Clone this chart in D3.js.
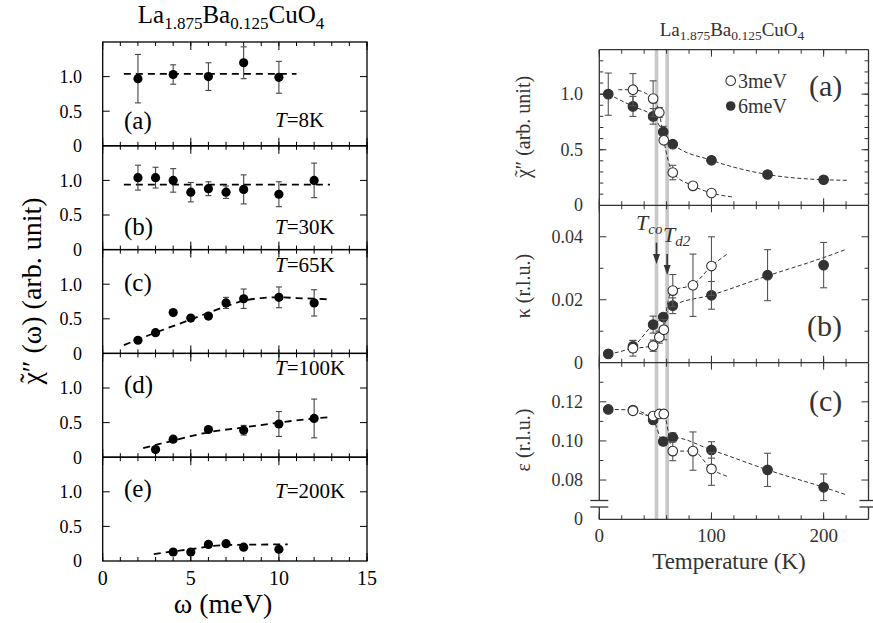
<!DOCTYPE html>
<html><head><meta charset="utf-8">
<script src="https://cdn.jsdelivr.net/npm/d3@7"></script>
<style>body{margin:0;background:#fff}svg{display:block}</style>
</head><body><svg id="fig" width="873" height="623"></svg>
<script>
// ---------- Left figure: chi''(omega) at five temperatures ----------
const panelLetters = ["(a)", "(b)", "(c)", "(d)", "(e)"];
const panelTemps = ["8K", "30K", "65K", "100K", "200K"];

const omegaA = [2, 4, 6, 8, 10];
const chiA = [0.97, 1.03, 1.00, 1.20, 0.99];
const errA = [0.35, 0.14, 0.20, 0.23, 0.23];
const fitA = [[1.2, 1.04], [11.0, 1.04]];

const omegaB = [2, 3, 4, 5, 6, 7, 8, 10, 12];
const chiB = [1.04, 1.04, 1.00, 0.83, 0.88, 0.83, 0.87, 0.80, 1.00];
const errB = [0.18, 0.15, 0.17, 0.14, 0.10, 0.09, 0.21, 0.18, 0.25];
const fitB = [[1.2, 0.94], [12.9, 0.94]];

const omegaC = [2, 3, 4, 5, 6, 7, 8, 10, 12];
const chiC = [0.19, 0.30, 0.59, 0.51, 0.54, 0.73, 0.79, 0.81, 0.73];
const errC = [0, 0, 0, 0, 0, 0.08, 0.14, 0.15, 0.19];
const fitC = [[1.2, 0.12], [3, 0.30], [5, 0.49], [7, 0.68], [8, 0.76], [9, 0.80], [10, 0.81], [11, 0.80], [12, 0.79], [12.9, 0.78]];

const omegaD = [3, 4, 6, 8, 10, 12];
const chiD = [0.11, 0.26, 0.40, 0.39, 0.48, 0.56];
const errD = [0, 0, 0, 0.07, 0.18, 0.28];
const fitD = [[2.3, 0.13], [4, 0.24], [6, 0.36], [8, 0.43], [10, 0.50], [12, 0.56], [12.9, 0.58]];

const omegaE = [4, 5, 6, 7, 8, 10];
const chiE = [0.13, 0.13, 0.24, 0.25, 0.20, 0.17];
const errE = [0, 0, 0, 0, 0, 0];
const fitE = [[2.9, 0.10], [4, 0.14], [5, 0.17], [6, 0.21], [7, 0.23], [8, 0.235], [10.5, 0.24]];

const omegaTicks = [0, 5, 10, 15];
const chiTicks = [0, 0.5, 1.0];

// ---------- Right figure: temperature dependence ----------
const temp6 = [8, 30, 48, 57, 65.5, 100, 150, 200];
const temp3 = [30, 48, 53.5, 57.5, 65.5, 83.5, 100];

const chi6 = [1.00, 0.89, 0.80, 0.66, 0.55, 0.405, 0.277, 0.23];
const chi6Err = [0.19, 0.09, 0.07, 0.05, 0, 0, 0, 0];
const chi3 = [1.04, 0.96, 0.835, 0.585, 0.295, 0.175, 0.11];
const chi3Err = [0.145, 0.16, 0.045, 0, 0.065, 0, 0];
const chi6Guide = [[8, 1.0], [30, 0.89], [48, 0.80], [57, 0.66], [65.5, 0.55], [100, 0.405], [150, 0.277], [200, 0.23], [221, 0.225]];
const chi3Guide = [[17, 1.04], [30, 1.04], [48, 0.96], [53.5, 0.835], [57.5, 0.585], [65.5, 0.295], [83.5, 0.175], [100, 0.11], [119, 0.075]];

const kap6 = [0.0028, 0.0052, 0.0121, 0.0145, 0.0181, 0.0214, 0.0278, 0.0310];
const kap6Err = [0, 0.0018, 0.0027, 0, 0.0025, 0.0044, 0.0081, 0.0072];
const kap3 = [0.0046, 0.0054, 0.0081, 0.0105, 0.0229, 0.0246, 0.0307];
const kap3Err = [0.0025, 0.0018, 0.0019, 0.0032, 0.0051, 0.0099, 0.0093];
const kap6Guide = [[8, 0.0028], [30, 0.0052], [48, 0.0121], [57, 0.0145], [65.5, 0.0181], [100, 0.0215], [150, 0.0276], [200, 0.0334], [220, 0.0360]];
const kap3Guide = [[30, 0.0046], [48, 0.0054], [53.5, 0.0081], [57.5, 0.0105], [61, 0.019], [65.5, 0.0229], [83.5, 0.0248], [100, 0.0307], [114, 0.0345]];

const eps6 = [0.1161, 0.1158, 0.1107, 0.0997, 0.1018, 0.0954, 0.0852, 0.0763];
const eps6Err = [0, 0, 0, 0.002, 0.0023, 0.0042, 0.0085, 0.0068];
const eps3 = [0.1154, 0.1127, 0.1138, 0.1138, 0.0948, 0.0948, 0.0857];
const eps3Err = [0, 0, 0, 0, 0.0049, 0.0098, 0.0084];
const eps6Guide = [[8, 0.1161], [30, 0.1158], [48, 0.1107], [57, 0.0997], [65.5, 0.1018], [100, 0.0954], [150, 0.0852], [200, 0.0763], [220, 0.0725]];
const eps3Guide = [[30, 0.1154], [48, 0.1127], [53.5, 0.1138], [57.5, 0.1138], [65.5, 0.0948], [83.5, 0.0948], [100, 0.0857], [115, 0.0817]];

const transitionT = [51, 60.5];   // T_co, T_d2
const tempTicks = [0, 100, 200];

// ---------------------------------------------------------------
const serif = '"Liberation Serif","Times New Roman","DejaVu Serif",serif';
const svg = d3.select("#fig");

function formula(g, x, y, size, sub, fill) {
  const t = g.append("text").attr("x", x).attr("y", y)
    .attr("text-anchor", "middle").attr("font-family", serif)
    .attr("font-size", size).attr("fill", fill);
  const parts = [["La", 0], ["1.875", 1], ["Ba", 0], ["0.125", 1], ["CuO", 0], ["4", 1]];
  let shifted = false;
  parts.forEach(([s, isSub]) => {
    const ts = t.append("tspan").text(s);
    if (isSub && !shifted) { ts.attr("dy", size * 0.22).attr("font-size", sub); shifted = true; }
    else if (isSub) { ts.attr("font-size", sub); }
    else if (shifted) { ts.attr("dy", -size * 0.22); shifted = false; }
  });
}

// rotated axis title beginning with a chi carrying a tilde
function chiTitle(g, cx, cy, size, rest, fill) {
  const grp = g.append("g").attr("transform", `translate(${cx},${cy}) rotate(-90)`);
  const t = grp.append("text").attr("font-family", serif).attr("font-size", size).attr("fill", fill);
  t.append("tspan").text("\u03C7");
  t.append("tspan").text(rest);
  const total = t.node().getComputedTextLength();
  const chiW = t.node().getSubStringLength(0, 1);
  t.attr("x", -total / 2);
  grp.append("text").attr("x", -total / 2 + chiW * 0.5).attr("y", -size * 0.08)
    .attr("text-anchor", "middle").attr("font-family", serif).attr("font-size", size * 0.95)
    .attr("fill", fill).text("\u02DC");
}

function hTicks(g, scale, vals, y, len, dir, color) {
  g.selectAll(null).data(vals).join("line")
    .attr("x1", d => scale(d)).attr("x2", d => scale(d))
    .attr("y1", y).attr("y2", y + dir * len)
    .attr("stroke", color).attr("stroke-width", 1);
}
function vTicks(g, scale, vals, x, len, dir, color) {
  g.selectAll(null).data(vals).join("line")
    .attr("y1", d => scale(d)).attr("y2", d => scale(d))
    .attr("x1", x).attr("x2", x + dir * len)
    .attr("stroke", color).attr("stroke-width", 1);
}
function errorBars(g, xs, ys, es, x, y, cap, color) {
  const idx = d3.range(xs.length).filter(i => es[i] > 0);
  const eb = g.append("g").attr("stroke", color).attr("stroke-width", 1.1);
  idx.forEach(i => {
    const cx = x(xs[i]), y1 = y(ys[i] + es[i]), y2 = y(ys[i] - es[i]);
    eb.append("line").attr("x1", cx).attr("x2", cx).attr("y1", y1).attr("y2", y2);
    eb.append("line").attr("x1", cx - cap).attr("x2", cx + cap).attr("y1", y1).attr("y2", y1);
    eb.append("line").attr("x1", cx - cap).attr("x2", cx + cap).attr("y1", y2).attr("y2", y2);
  });
}

// ================= LEFT =================
const left = svg.append("g");
const LX0 = 102.7, LX1 = 367, LTOP = 42, LH = 103.8;
const xL = d3.scaleLinear().domain([0, 15]).range([LX0, LX1]);
const leftData = [
  [omegaA, chiA, errA, fitA], [omegaB, chiB, errB, fitB], [omegaC, chiC, errC, fitC],
  [omegaD, chiD, errD, fitD], [omegaE, chiE, errE, fitE]
];
const letterDy = [87, 89, 41, 40, 40];
const tempDy = [85, 88, 22, 22, 41];
const minorOmega = d3.range(0, 16);

leftData.forEach(([w, v, e, fit], i) => {
  const top = LTOP + i * LH, bot = top + LH;
  const y = d3.scaleLinear().domain([0, 1.5]).range([bot, top]);
  const g = left.append("g");
  hTicks(g, xL, minorOmega, bot, 4, -1, "#000");
  hTicks(g, xL, omegaTicks, bot, 8, -1, "#000");
  hTicks(g, xL, minorOmega, top, 4, 1, "#000");
  hTicks(g, xL, omegaTicks, top, 8, 1, "#000");
  vTicks(g, y, [0.5, 1.0], LX0, 7, 1, "#000");
  vTicks(g, y, [0.5, 1.0], LX1, 7, -1, "#000");
  g.append("rect").attr("x", LX0).attr("y", top).attr("width", LX1 - LX0).attr("height", LH)
    .attr("fill", "none").attr("stroke", "#000").attr("stroke-width", 1.3);
  g.selectAll(null).data(chiTicks).join("text")
    .attr("x", 82).attr("y", d => y(d)).attr("dy", "0.35em")
    .attr("text-anchor", "end").attr("font-family", serif).attr("font-size", 18)
    .text(d => d === 0 ? "0" : d.toFixed(1));
  g.append("path").datum(fit)
    .attr("d", d3.line().x(d => xL(d[0])).y(d => y(d[1])).curve(d3.curveMonotoneX))
    .attr("fill", "none").attr("stroke", "#000").attr("stroke-width", 1.8)
    .attr("stroke-dasharray", "7,5");
  errorBars(g, w, v, e, xL, y, 3, "#444");
  g.selectAll(null).data(d3.range(w.length)).join("circle")
    .attr("cx", k => xL(w[k])).attr("cy", k => y(v[k])).attr("r", 4.6).attr("fill", "#000");
  g.append("text").attr("x", 124).attr("y", top + letterDy[i])
    .attr("font-family", serif).attr("font-size", 25).text(panelLetters[i]);
  const tt = g.append("text").attr("x", 275).attr("y", top + tempDy[i])
    .attr("font-family", serif).attr("font-size", 21);
  tt.append("tspan").attr("font-style", "italic").text("T");
  tt.append("tspan").text("=" + panelTemps[i]);
});
left.selectAll(null).data(omegaTicks).join("text")
  .attr("x", d => xL(d)).attr("y", 585).attr("text-anchor", "middle")
  .attr("font-family", serif).attr("font-size", 20).text(d => d);
left.append("text").attr("x", 223).attr("y", 613).attr("text-anchor", "middle")
  .attr("font-family", serif).attr("font-size", 28).text("\u03C9 (meV)");
chiTitle(left, 41, 291, 28, "\u2033 (\u03C9) (arb. unit)", "#000");
formula(left, 231, 23, 25, 17, "#000");

// ================= RIGHT =================
const right = svg.append("g");
const INK = "#333";
const RX0 = 599.3, RX1 = 868.5;
const xR = d3.scaleLinear().domain([0, 240]).range([RX0, RX1]);
const yChi = d3.scaleLinear().domain([0, 1.4]).range([205.3, 49.7]);
const yKap = d3.scaleLinear().domain([0, 0.05]).range([362.7, 205.3]);
const yEps = d3.scaleLinear().domain([0.07, 0.14]).range([499.6, 362.7]);
const RB = 519.3;

right.selectAll(null).data(transitionT).join("rect")
  .attr("x", d => xR(d) - 1.8).attr("width", 3.6)
  .attr("y", 49.7).attr("height", RB - 49.7).attr("fill", "#c8c8c8");

const minorT = d3.range(0, 241, 20);
[[49.7, 205.3], [205.3, 362.7], [362.7, RB]].forEach(([t, b]) => {
  hTicks(right, xR, minorT, t, 4, 1, INK);
  hTicks(right, xR, tempTicks, t, 7, 1, INK);
  hTicks(right, xR, minorT, b, 4, -1, INK);
  hTicks(right, xR, tempTicks, b, 7, -1, INK);
});
function yTickSet(scale, minor, major) {
  vTicks(right, scale, minor, RX0, 4, 1, INK);
  vTicks(right, scale, major, RX0, 7, 1, INK);
  vTicks(right, scale, minor, RX1, 4, -1, INK);
  vTicks(right, scale, major, RX1, 7, -1, INK);
}
yTickSet(yChi, d3.range(1, 14).map(d => d / 10), [0.5, 1.0]);
yTickSet(yKap, [0.01, 0.03], [0.02, 0.04]);
yTickSet(yEps, [0.09, 0.11, 0.13], [0.08, 0.10, 0.12]);

// frame with broken axis at the bottom of panel (c)
const br1 = 500.5, br2 = 507;
const frame = right.append("g").attr("stroke", INK).attr("stroke-width", 1.3).attr("fill", "none");
[49.7, 205.3, 362.7, RB].forEach(yy => frame.append("line")
  .attr("x1", RX0).attr("x2", RX1).attr("y1", yy).attr("y2", yy));
[RX0, RX1].forEach(x => {
  frame.append("line").attr("x1", x).attr("x2", x).attr("y1", 49.7).attr("y2", br1);
  frame.append("line").attr("x1", x).attr("x2", x).attr("y1", br2).attr("y2", RB);
  [br1, br2].forEach(yb => frame.append("line")
    .attr("x1", x - 9).attr("x2", x + 9).attr("y1", yb).attr("y2", yb));
});

function series(scaleY, temps, vals, errs, guide, open) {
  const g = right.append("g");
  g.append("path").datum(guide)
    .attr("d", d3.line().x(d => xR(d[0])).y(d => scaleY(d[1])).curve(d3.curveMonotoneX))
    .attr("fill", "none").attr("stroke", INK).attr("stroke-width", 1)
    .attr("stroke-dasharray", "4,2.5");
  errorBars(g, temps, vals, errs, xR, scaleY, 3.5, "#555");
  g.selectAll(null).data(d3.range(temps.length)).join("circle")
    .attr("cx", k => xR(temps[k])).attr("cy", k => scaleY(vals[k])).attr("r", 4.8)
    .attr("fill", open ? "#fff" : INK).attr("stroke", INK).attr("stroke-width", 1.1);
}
series(yChi, temp6, chi6, chi6Err, chi6Guide, false);
series(yChi, temp3, chi3, chi3Err, chi3Guide, true);
series(yKap, temp6, kap6, kap6Err, kap6Guide, false);
series(yKap, temp3, kap3, kap3Err, kap3Guide, true);
series(yEps, temp6, eps6, eps6Err, eps6Guide, false);
series(yEps, temp3, eps3, eps3Err, eps3Guide, true);

const rtxt = (x, y, s, size, anchor) => right.append("text").attr("x", x).attr("y", y)
  .attr("text-anchor", anchor || "end").attr("font-family", serif).attr("font-size", size)
  .attr("fill", INK).text(s);
[[0, "0"], [0.5, "0.5"], [1.0, "1.0"]].forEach(([v, s]) => rtxt(583, yChi(v) + 6, s, 18));
[[0, "0"], [0.02, "0.02"], [0.04, "0.04"]].forEach(([v, s]) => rtxt(583, yKap(v) + 6, s, 18));
[[0.08, "0.08"], [0.10, "0.10"], [0.12, "0.12"]].forEach(([v, s]) => rtxt(583, yEps(v) + 6, s, 18));
rtxt(583, RB + 6, "0", 18);
tempTicks.forEach(t => rtxt(xR(t), 542, String(t), 19, "middle"));
rtxt(729, 569, "Temperature (K)", 23, "middle");

const rot = (x, y, s) => right.append("text").attr("transform", `translate(${x},${y}) rotate(-90)`)
  .attr("text-anchor", "middle").attr("font-family", serif).attr("font-size", 20)
  .attr("fill", INK).text(s);
chiTitle(right, 530, 127, 20, "\u2033 (arb. unit)", INK);
rot(530, 286, "\u03BA (r.l.u.)");
rot(530, 440, "\u03B5 (r.l.u.)");

rtxt(809, 96, "(a)", 30, "start");
rtxt(807, 336, "(b)", 30, "start");
rtxt(809, 411, "(c)", 30, "start");

right.append("circle").attr("cx", 730.7).attr("cy", 80.7).attr("r", 4.8)
  .attr("fill", "#fff").attr("stroke", INK).attr("stroke-width", 1.1);
right.append("circle").attr("cx", 730.7).attr("cy", 106).attr("r", 4.8).attr("fill", INK);
rtxt(738, 87.5, "3meV", 20, "start");
rtxt(738, 113, "6meV", 20, "start");

function tLabel(x, y, sub) {
  const t = right.append("text").attr("x", x).attr("y", y).attr("font-family", serif)
    .attr("font-size", 22).attr("font-style", "italic").attr("fill", INK);
  t.append("tspan").text("T");
  t.append("tspan").attr("font-size", 15).attr("dy", 4).text(sub);
}
tLabel(636, 230, "co");
tLabel(663, 242, "d2");
function arrow(x, y0, y1) {
  right.append("line").attr("x1", x).attr("x2", x).attr("y1", y0).attr("y2", y1 - 8)
    .attr("stroke", INK).attr("stroke-width", 1.6);
  right.append("path").attr("d", `M${x - 3.5},${y1 - 10}L${x + 3.5},${y1 - 10}L${x},${y1}Z`).attr("fill", INK);
}
arrow(xR(transitionT[0]), 242.7, 264);
arrow(xR(transitionT[1]), 254, 275);

formula(right, 732, 36, 19, 13.5, INK);
</script>
</body></html>
